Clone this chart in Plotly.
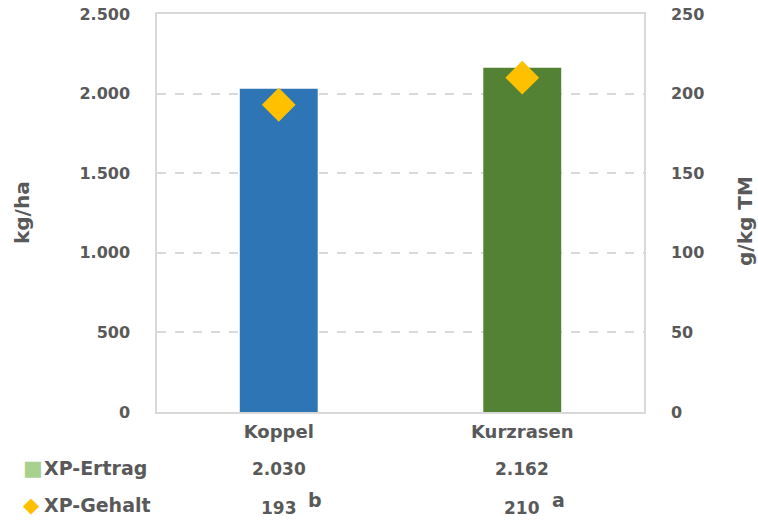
import plotly.graph_objects as go

categories = ["Koppel", "Kurzrasen"]
xp_ertrag = [2030, 2162]
xp_gehalt = [193, 210]
sig_letters = ["b", "a"]
bar_colors = ["#2E75B6", "#548235"]
left_ticks = [0, 500, 1000, 1500, 2000, 2500]
right_ticks = [0, 50, 100, 150, 200, 250]
row_labels = ["XP-Ertrag", "XP-Gehalt"]

def de(n):
    return f"{n:,}".replace(",", ".")

FONT = "DejaVu Sans"
GREY = "#595959"
LINE = "#D9D9D9"

fig = go.Figure()
fig.add_trace(go.Bar(x=categories, y=xp_ertrag, marker_color=bar_colors, width=0.32,
                     marker_line_width=0, name="XP-Ertrag", showlegend=False))
fig.add_trace(go.Scatter(x=categories, y=xp_gehalt, yaxis="y2", mode="markers",
                         marker=dict(symbol="diamond", size=26, color="#FFC000", line_width=0),
                         name="XP-Gehalt", showlegend=False))

tick_font = dict(size=16, family=FONT, color=GREY, weight="bold")
fig.update_layout(
    width=758, height=520,
    margin=dict(l=157, r=114, t=14, b=108),
    paper_bgcolor="white", plot_bgcolor="white",
    font=dict(family=FONT, color=GREY),
    xaxis=dict(showline=True, linecolor=LINE, linewidth=1.5, mirror=True, automargin=False,
               tickfont=dict(size=18, family=FONT, color=GREY, weight="bold"),
               ticks="", ticklabelstandoff=3),
    yaxis=dict(range=[0, 2500], tickvals=left_ticks, ticktext=[de(v) for v in left_ticks],
               showgrid=True, gridcolor=LINE, griddash="dash", gridwidth=1.5,
               showline=True, linecolor=LINE, linewidth=1.5, zeroline=False, automargin=False,
               tickfont=tick_font, ticks="", ticklabelstandoff=22),
    yaxis2=dict(range=[0, 250], tickvals=right_ticks, overlaying="y", side="right",
                showgrid=False, showline=True, linecolor=LINE, linewidth=1.5, zeroline=False,
                automargin=False, tickfont=tick_font, ticks="", ticklabelstandoff=22),
)

title_font = dict(size=20, family=FONT, color=GREY, weight="bold")
fig.add_annotation(x=0, xref="paper", xshift=-135, y=0.5, yref="paper", text="kg/ha",
                   textangle=-90, xanchor="center", yanchor="middle",
                   showarrow=False, font=title_font)
fig.add_annotation(x=1, xref="paper", xshift=101, y=0.48, yref="paper", text="g/kg TM",
                   textangle=-90, xanchor="center", yanchor="middle",
                   showarrow=False, font=title_font)

row_y = [-0.1407, -0.2337]
label_font = dict(size=19, family=FONT, color=GREY, weight="bold")
fig.add_annotation(x=0, xref="paper", xshift=-136, y=row_y[0], yref="paper",
                   text="<span style='color:#A9D18E'>■</span>", showarrow=False,
                   xanchor="left", yanchor="middle", font=dict(size=21, family=FONT))
fig.add_annotation(x=0, xref="paper", xshift=-136, y=row_y[1], yref="paper",
                   text="<span style='color:#FFC000'>◆</span>", showarrow=False,
                   xanchor="left", yanchor="middle", font=dict(size=21, family=FONT))
for ry, lab in zip(row_y, row_labels):
    fig.add_annotation(x=0, xref="paper", xshift=-115, y=ry, yref="paper",
                       text=lab, showarrow=False, xanchor="left", yanchor="middle",
                       font=label_font)

val_font = dict(size=17, family=FONT, color=GREY, weight="bold")
for c, e, g, s in zip(categories, xp_ertrag, xp_gehalt, sig_letters):
    fig.add_annotation(x=c, xref="x", y=row_y[0], yref="paper", yshift=-1, text=de(e),
                       showarrow=False, yanchor="middle", font=val_font)
    fig.add_annotation(x=c, xref="x", y=row_y[1], yref="paper", yshift=-3,
                       text=f"{g}", showarrow=False, yanchor="middle", font=val_font)
    fig.add_annotation(x=c, xref="x", y=row_y[1], yref="paper", yshift=5, xshift=36,
                       text=s, showarrow=False, yanchor="middle",
                       font=dict(size=19, family=FONT, color=GREY, weight="bold"))

fig.write_html("out.html")
